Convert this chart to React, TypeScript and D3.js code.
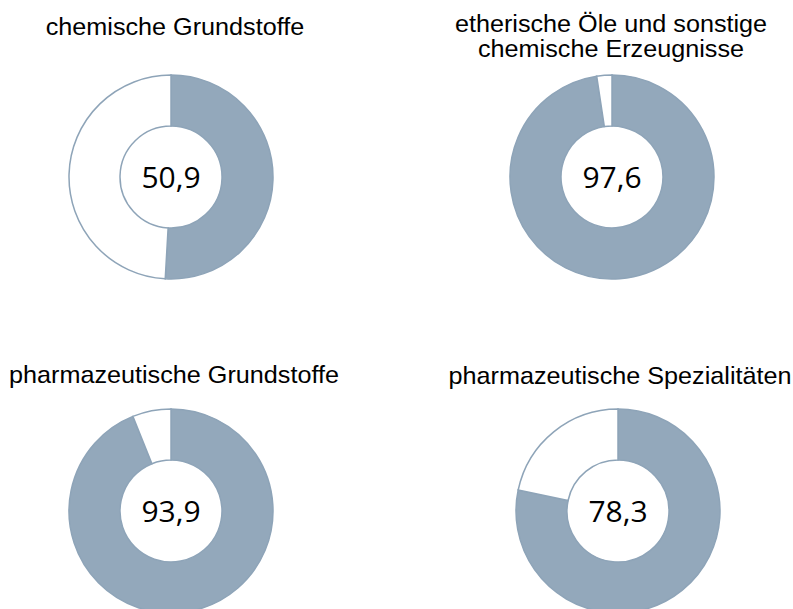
import React, { useEffect, useRef } from 'react';
import * as d3 from 'd3';

const titles: string[][] = [
  ['chemische Grundstoffe'],
  ['etherische Öle und sonstige', 'chemische Erzeugnisse'],
  ['pharmazeutische Grundstoffe'],
  ['pharmazeutische Spezialitäten'],
];
const shares: number[] = [50.9, 97.6, 93.9, 78.3];
const labels: string[] = ['50,9', '97,6', '93,9', '78,3'];

// panel layout
const centers: [number, number][] = [
  [171, 177],
  [612, 177],
  [171, 511],
  [618, 511],
];
const titleAnchors: [number, number][] = [
  [175, 35],
  [611, 32],
  [174, 383],
  [620, 384],
];

const FILL = '#93a8bb';
const EDGE = '#8ea4b8';

export default function App() {
  const ref = useRef<SVGSVGElement>(null);

  useEffect(() => {
    if (!ref.current) return;
    const svg = d3.select(ref.current);
    svg.selectAll('*').remove();

    const pie = d3.pie<number>().sort(null).value(d => d);
    const arc = d3.arc<d3.PieArcDatum<number>>().innerRadius(51).outerRadius(102);

    shares.forEach((v, i) => {
      const [cx, cy] = centers[i];
      const g = svg.append('g').attr('transform', `translate(${cx},${cy})`);
      const arcs = pie([v, 100 - v]);

      g.selectAll('path')
        .data(arcs)
        .enter()
        .append('path')
        .attr('d', arc)
        .attr('fill', (_, j) => (j === 0 ? FILL : '#ffffff'))
        .attr('stroke', EDGE)
        .attr('stroke-width', 1.5);

      g.append('text')
        .attr('text-anchor', 'middle')
        .attr('dy', '0.35em')
        .attr('font-family', '"Open Sans", sans-serif')
        .attr('font-size', 30)
        .attr('fill', '#000')
        .text(labels[i]);

      // titles are slightly wider in the original, stretch a bit
      const [tx, ty] = titleAnchors[i];
      const t = svg.append('text')
        .attr('transform', `translate(${tx},${ty}) scale(1.05,1)`)
        .attr('text-anchor', 'middle')
        .attr('font-family', '"Liberation Sans", Arial, sans-serif')
        .attr('font-size', 24)
        .attr('fill', '#000');
      titles[i].forEach((line, k) => {
        t.append('tspan').attr('x', 0).attr('y', k * 25).text(line);
      });
    });
  }, []);

  return (
    <svg
      ref={ref}
      width={793}
      height={609}
      style={{ position: 'absolute', left: 0, top: 0, background: '#fff' }}
    />
  );
}
